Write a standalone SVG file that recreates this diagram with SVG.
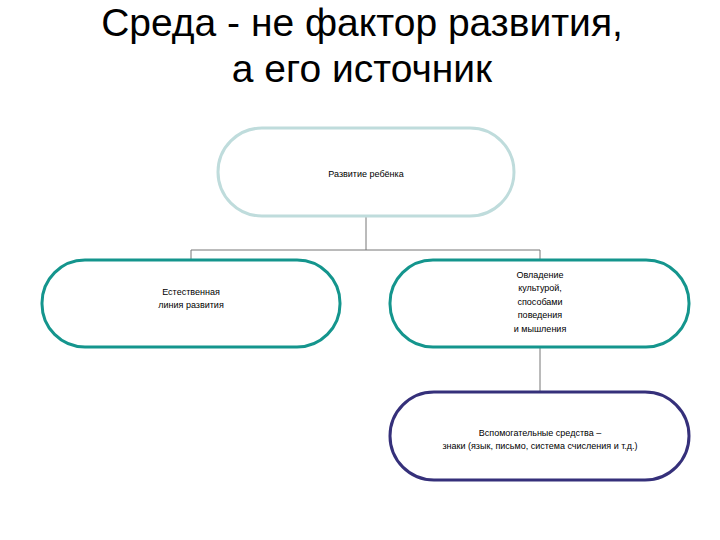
<svg xmlns="http://www.w3.org/2000/svg" width="720" height="540" viewBox="0 0 720 540">
<style>
.t{font-family:"Liberation Sans",Arial,sans-serif;font-size:9px;fill:#000;text-anchor:middle}
.h{font-family:"Liberation Sans",Arial,sans-serif;font-size:39px;fill:#000;text-anchor:middle}
.b{fill:#fff;stroke-width:3}
.c{fill:none;stroke:#777;stroke-width:1}
</style>
<rect width="720" height="540" fill="#fff"/>
<text class="h" x="362" y="36">Среда - не фактор развития,</text>
<text class="h" x="362" y="82">а его источник</text>
<g id="connectors">
<path class="c" d="M366 216V250M191 250H540M191 250V260M540 250V260M540 347V392"/>
</g>
<g id="n1"><rect class="b" x="218" y="128" width="296" height="88" rx="44" stroke="#bfdcdc"/><text class="t" x="366" y="177">Развитие ребёнка</text></g>
<g id="n2"><rect class="b" x="42" y="260" width="298" height="87" rx="43" stroke="#14958d"/><text class="t" x="191" y="295">Естественная</text><text class="t" x="191" y="308">линия развития</text></g>
<g id="n3"><rect class="b" x="390" y="260" width="299" height="87" rx="43" stroke="#14958d"/><text class="t" x="540" y="278">Овладение</text><text class="t" x="540" y="291">культурой,</text><text class="t" x="540" y="305">способами</text><text class="t" x="540" y="318">поведения</text><text class="t" x="540" y="332">и мышления</text></g>
<g id="n4"><rect class="b" x="390" y="392" width="299" height="88" rx="44" stroke="#35307a"/><text class="t" x="540" y="436">Вспомогательные средства –</text><text class="t" x="540" y="449">знаки (язык, письмо, система счисления и т.д.)</text></g>
</svg>
